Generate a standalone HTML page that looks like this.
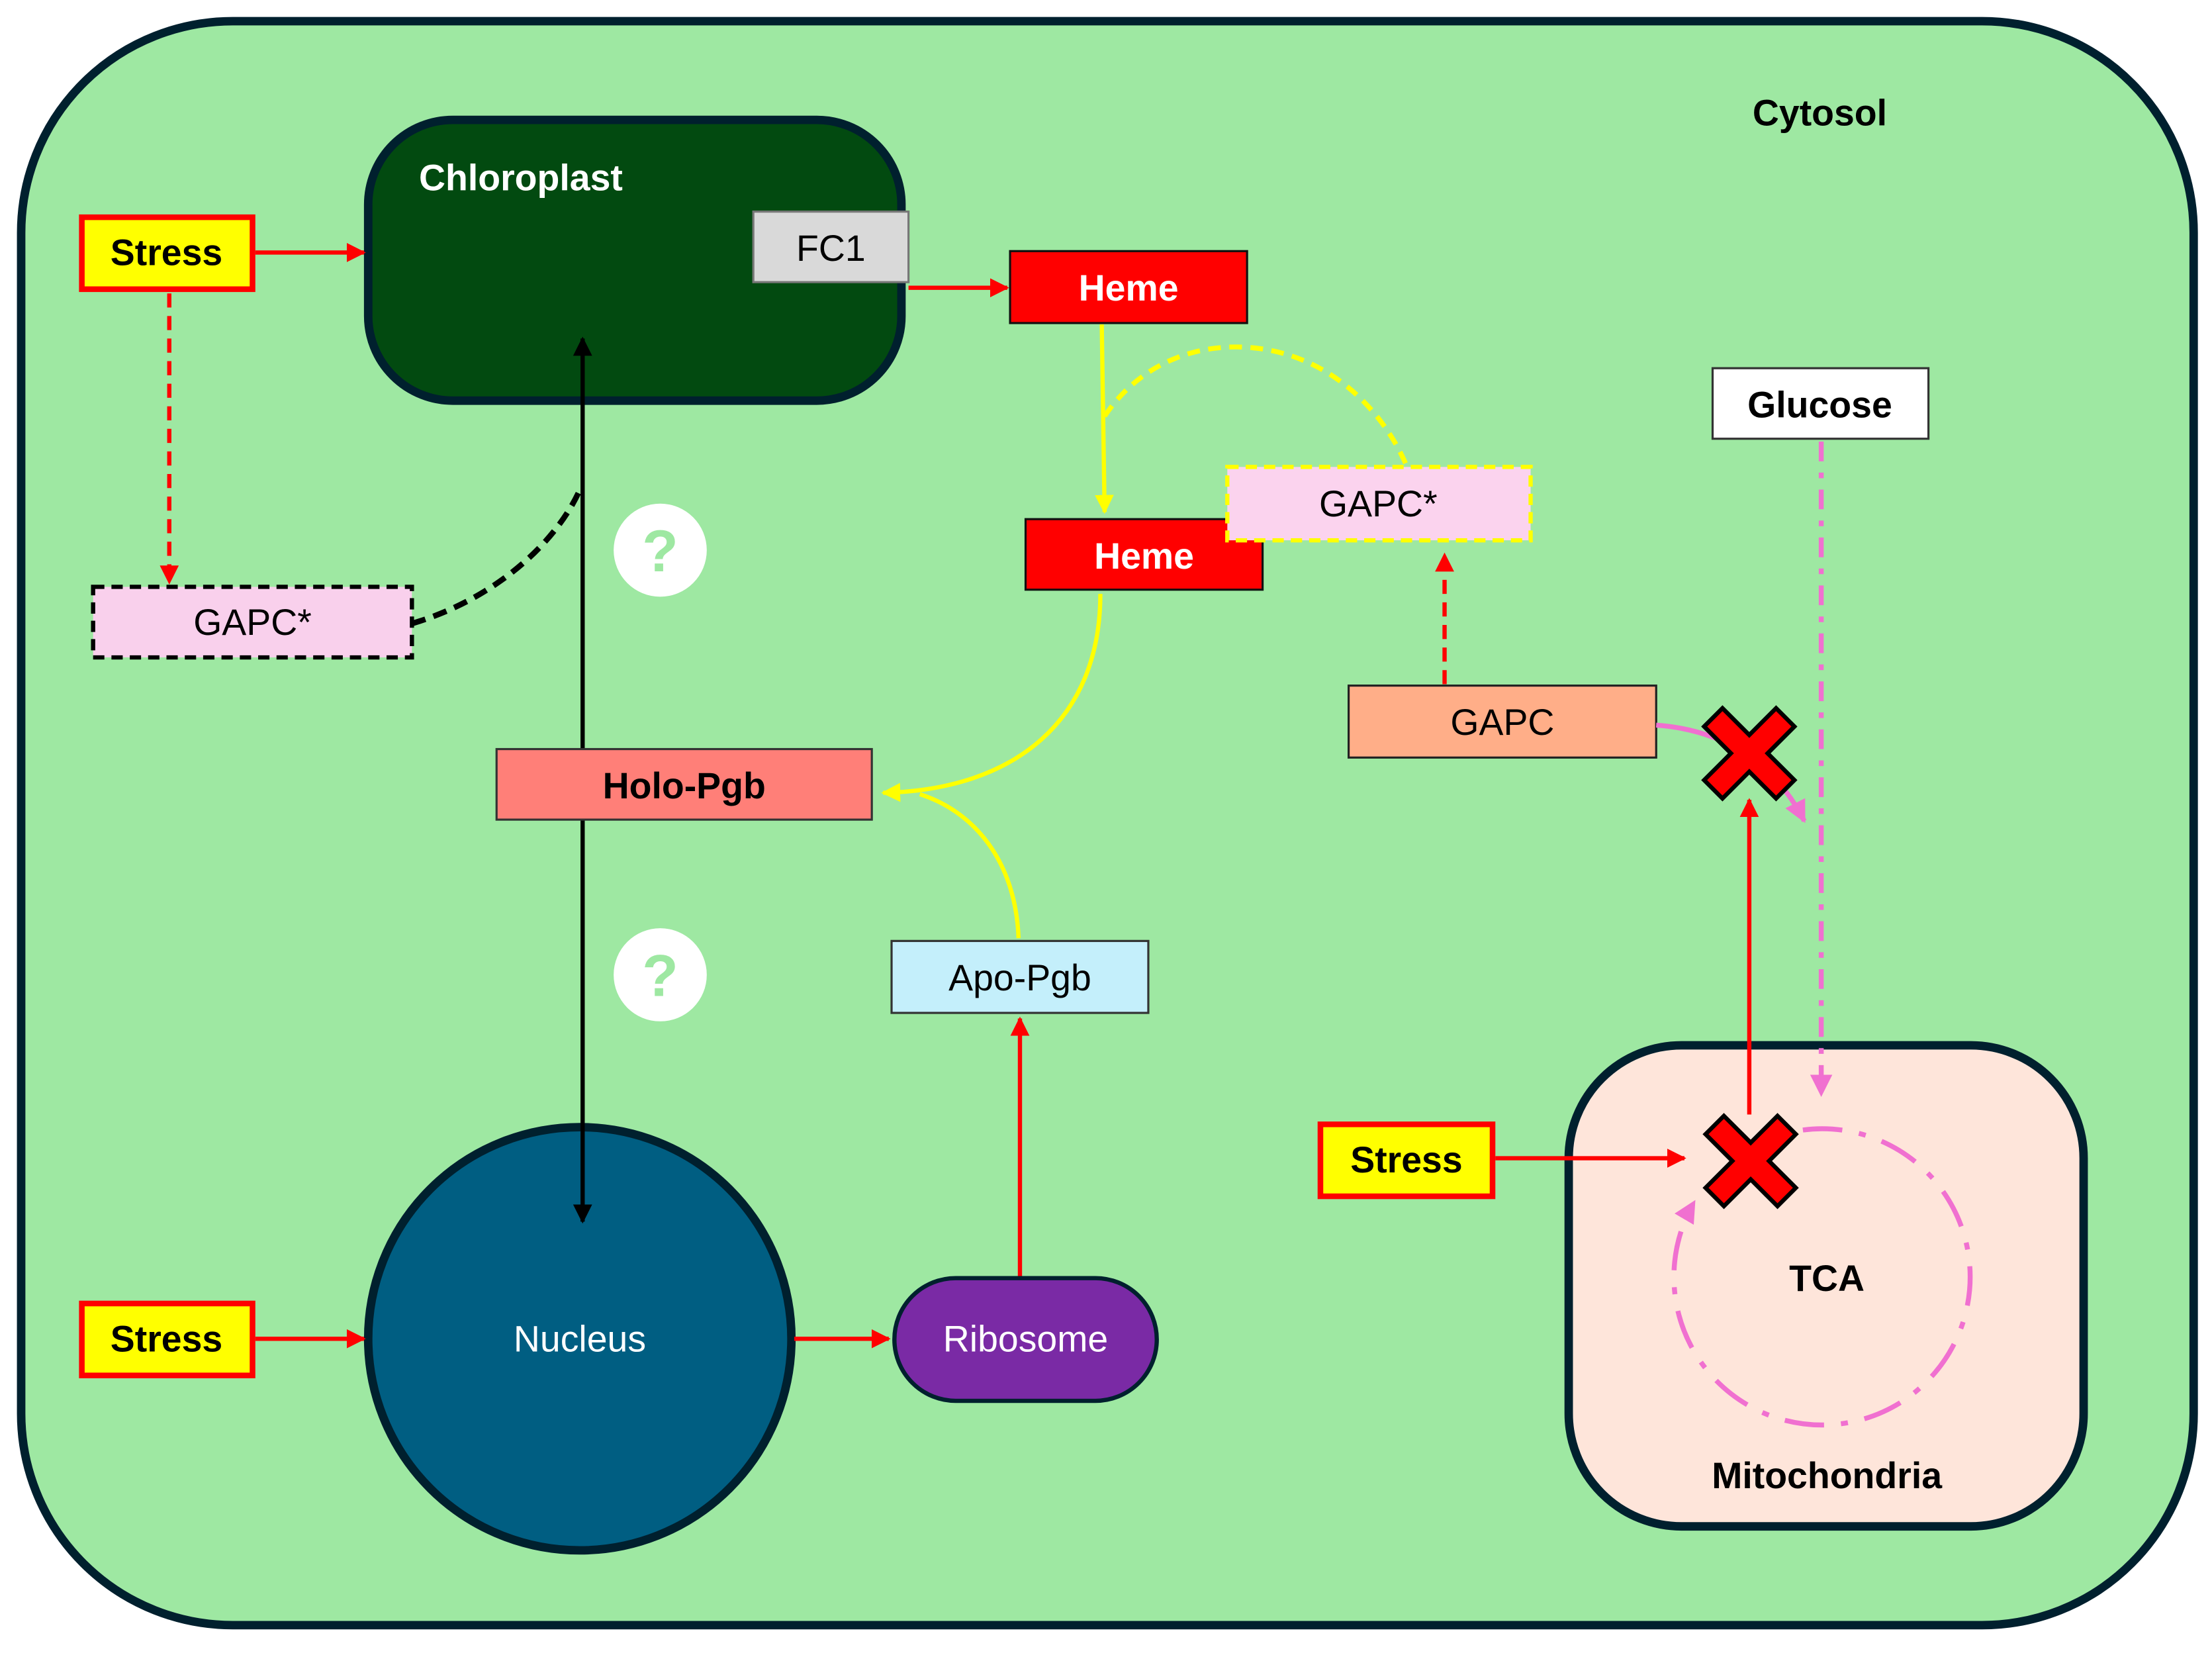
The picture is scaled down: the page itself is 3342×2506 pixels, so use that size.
<!DOCTYPE html>
<html><head><meta charset="utf-8"><style>
html,body{margin:0;padding:0;background:#fff;}
svg{display:block;}
text{font-family:"Liberation Sans",Arial,sans-serif;}
</style></head><body>
<svg width="3342" height="2506" viewBox="0 0 1568 1176" preserveAspectRatio="none" xmlns="http://www.w3.org/2000/svg">
<defs>
<marker id="ar" viewBox="0 0 10 10" refX="9" refY="5" markerWidth="4.5" markerHeight="4.5" orient="auto-start-reverse" markerUnits="strokeWidth"><path d="M0,0 L10,5 L0,10 z" fill="#ff0000"/></marker>
<marker id="ay" viewBox="0 0 10 10" refX="9" refY="5" markerWidth="4.5" markerHeight="4.5" orient="auto-start-reverse" markerUnits="strokeWidth"><path d="M0,0 L10,5 L0,10 z" fill="#ffff00"/></marker>
<marker id="ak" viewBox="0 0 10 10" refX="9" refY="5" markerWidth="4.5" markerHeight="4.5" orient="auto-start-reverse" markerUnits="strokeWidth"><path d="M0,0 L10,5 L0,10 z" fill="#000"/></marker>
<marker id="ap" viewBox="0 0 10 10" refX="9" refY="5" markerWidth="4.5" markerHeight="4.5" orient="auto-start-reverse" markerUnits="strokeWidth"><path d="M0,0 L10,5 L0,10 z" fill="#f070d0"/></marker>
</defs>
<rect width="1568" height="1176" fill="#fff"/>
<rect x="15" y="15" width="1540" height="1137" rx="150" fill="#9ee8a2" stroke="#00202e" stroke-width="6"/>
<text x="1290" y="89" font-size="26" font-weight="bold" text-anchor="middle">Cytosol</text>

<!-- Chloroplast -->
<rect x="261" y="85" width="378" height="199" rx="60" fill="#024a10" stroke="#00202e" stroke-width="6"/>
<text x="297" y="135" font-size="26" font-weight="bold" fill="#fff">Chloroplast</text>
<rect x="534" y="150" width="110" height="50" fill="#d9d9d9" stroke="#777" stroke-width="1.5"/>
<text x="589" y="185" font-size="26" text-anchor="middle">FC1</text>

<!-- Stress 1 -->
<rect x="58" y="154" width="121" height="51" fill="#ffff00" stroke="#ff0000" stroke-width="4"/>
<text x="118" y="188" font-size="26" font-weight="bold" text-anchor="middle">Stress</text>
<line x1="181" y1="179" x2="258" y2="179" stroke="#ff0000" stroke-width="3" marker-end="url(#ar)"/>
<line x1="120" y1="208" x2="120" y2="413" stroke="#ff0000" stroke-width="3" stroke-dasharray="10,6" marker-end="url(#ar)"/>

<rect x="66" y="416" width="226" height="50" fill="#f9d0ec" stroke="#000" stroke-width="3" stroke-dasharray="8,5"/>
<text x="179" y="450" font-size="26" text-anchor="middle">GAPC*</text>
<path d="M292,442 C350,425 395,385 412,345" fill="none" stroke="#000" stroke-width="4" stroke-dasharray="10,6"/>

<!-- question circles -->
<circle cx="468" cy="390" r="33" fill="#fff"/>
<text x="468" y="405" font-size="42" font-weight="bold" fill="#9ee8a2" text-anchor="middle">?</text>
<circle cx="468" cy="691" r="33" fill="#fff"/>
<text x="468" y="706" font-size="42" font-weight="bold" fill="#9ee8a2" text-anchor="middle">?</text>

<!-- Nucleus -->
<circle cx="411" cy="949" r="150" fill="#005e82" stroke="#00202e" stroke-width="6"/>
<text x="411" y="958" font-size="26" fill="#fff" text-anchor="middle">Nucleus</text>

<!-- vertical double arrow -->
<line x1="413" y1="240" x2="413" y2="866" stroke="#000" stroke-width="3" marker-start="url(#ak)" marker-end="url(#ak)"/>

<!-- Heme -->
<line x1="644" y1="204" x2="714" y2="204" stroke="#ff0000" stroke-width="3" marker-end="url(#ar)"/>
<rect x="716" y="178" width="168" height="51" fill="#ff0000" stroke="#111" stroke-width="1.5"/>
<text x="800" y="213" font-size="26" font-weight="bold" fill="#fff" text-anchor="middle">Heme</text>
<line x1="781" y1="230" x2="783" y2="363" stroke="#ffff00" stroke-width="3" marker-end="url(#ay)"/>
<path d="M783,295 C810,255 850,245 880,246 C940,248 980,290 997,330" fill="none" stroke="#ffff00" stroke-width="3.5" stroke-dasharray="9,6"/>
<rect x="727" y="368" width="168" height="50" fill="#ff0000" stroke="#111" stroke-width="1.5"/>
<text x="811" y="403" font-size="26" font-weight="bold" fill="#fff" text-anchor="middle">Heme</text>
<rect x="870" y="331" width="215" height="52" fill="#fbd3ee" stroke="#ffff00" stroke-width="3" stroke-dasharray="8,5"/>
<text x="977" y="366" font-size="26" text-anchor="middle">GAPC*</text>

<!-- GAPC -->
<line x1="1024" y1="485" x2="1024" y2="393" stroke="#ff0000" stroke-width="3" stroke-dasharray="10,6" marker-end="url(#ar)"/>
<rect x="956" y="486" width="218" height="51" fill="#ffae88" stroke="#222" stroke-width="1.5"/>
<text x="1065" y="521" font-size="26" text-anchor="middle">GAPC</text>

<!-- Holo-Pgb -->
<path d="M780,421 C780,510 720,560 626,562" fill="none" stroke="#ffff00" stroke-width="3" marker-end="url(#ay)"/>
<path d="M722,665 C720,610 690,575 652,563" fill="none" stroke="#ffff00" stroke-width="3"/>
<rect x="352" y="531" width="266" height="50" fill="#ff7f78" stroke="#333" stroke-width="1.5"/>
<text x="485" y="566" font-size="26" font-weight="bold" text-anchor="middle">Holo-Pgb</text>

<rect x="632" y="667" width="182" height="51" fill="#c4effb" stroke="#333" stroke-width="1.5"/>
<text x="723" y="702" font-size="26" text-anchor="middle">Apo-Pgb</text>
<line x1="723" y1="905" x2="723" y2="722" stroke="#ff0000" stroke-width="3" marker-end="url(#ar)"/>

<rect x="58" y="924" width="121" height="51" fill="#ffff00" stroke="#ff0000" stroke-width="4"/>
<text x="118" y="958" font-size="26" font-weight="bold" text-anchor="middle">Stress</text>
<line x1="181" y1="949" x2="258" y2="949" stroke="#ff0000" stroke-width="3" marker-end="url(#ar)"/>
<line x1="563" y1="949" x2="630" y2="949" stroke="#ff0000" stroke-width="3" marker-end="url(#ar)"/>
<rect x="634" y="906" width="186" height="87" rx="43.5" fill="#7a2aa5" stroke="#00202e" stroke-width="3"/>
<text x="727" y="958" font-size="26" fill="#fff" text-anchor="middle">Ribosome</text>

<!-- Glucose -->
<rect x="1214" y="261" width="153" height="50" fill="#fff" stroke="#333" stroke-width="1.5"/>
<text x="1290" y="296" font-size="26" font-weight="bold" text-anchor="middle">Glucose</text>

<!-- Mitochondria -->
<rect x="1112" y="741" width="365" height="341" rx="80" fill="#fee5da" stroke="#00202e" stroke-width="6"/>
<line x1="1291" y1="313" x2="1291" y2="776" stroke="#f070d0" stroke-width="3.5" stroke-dasharray="14,8,4,8" marker-end="url(#ap)"/>
<text x="1295" y="915" font-size="26" font-weight="bold" text-anchor="middle">TCA</text>
<text x="1295" y="1055" font-size="26" font-weight="bold" text-anchor="middle">Mitochondria</text>
<path d="M1278,801 A105,105 0 1 1 1201,852" fill="none" stroke="#f070d0" stroke-width="3.5" stroke-dasharray="28,12,5,12" marker-end="url(#ap)"/>
<path d="M1174,514 C1215,517 1255,535 1279,582" fill="none" stroke="#f070d0" stroke-width="3.5" marker-end="url(#ap)"/>

<rect x="936" y="797" width="122" height="51" fill="#ffff00" stroke="#ff0000" stroke-width="4"/>
<text x="997" y="831" font-size="26" font-weight="bold" text-anchor="middle">Stress</text>
<line x1="1060" y1="821" x2="1194" y2="821" stroke="#ff0000" stroke-width="3" marker-end="url(#ar)"/>
<line x1="1240" y1="790" x2="1240" y2="567" stroke="#ff0000" stroke-width="3" marker-end="url(#ar)"/>

<g transform="translate(1240,534)"><polygon points="-32,-19 -19,-32 0,-13 19,-32 32,-19 13,0 32,19 19,32 0,13 -19,32 -32,19 -13,0" fill="#ff0000" stroke="#000" stroke-width="3"/></g>
<g transform="translate(1241,823)"><polygon points="-32,-19 -19,-32 0,-13 19,-32 32,-19 13,0 32,19 19,32 0,13 -19,32 -32,19 -13,0" fill="#ff0000" stroke="#000" stroke-width="3"/></g>
</svg>
</body></html>
